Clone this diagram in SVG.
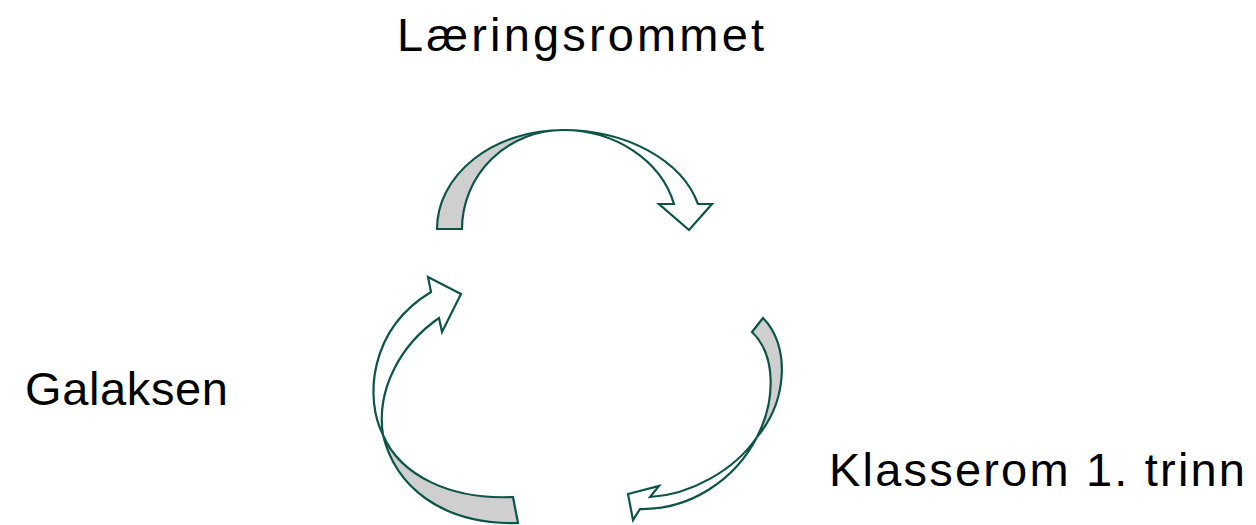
<svg xmlns="http://www.w3.org/2000/svg" width="1256" height="525" viewBox="0 0 1256 525">
<style>
.lbl{font-family:"Liberation Sans",Arial,sans-serif;font-size:47px;fill:#000}
.back{fill:#cfcfcf;stroke:#0b5447;stroke-width:2.2;stroke-linejoin:miter}
.front{fill:#fff;stroke:#0b5447;stroke-width:2.2;stroke-linejoin:miter}
</style>
<rect width="1256" height="525" fill="#fff"/>
<g id="node-laeringsrommet"><text class="lbl" x="397" y="51" textLength="367">Læringsrommet</text></g>
<g id="node-galaksen"><text class="lbl" x="25" y="405" textLength="203">Galaksen</text></g>
<g id="node-klasserom"><text class="lbl" x="829" y="486" textLength="416">Klasserom 1. trinn</text></g>
<g id="connectors">
<g id="arrow-top">
<path class="back" d="M437,229 L462,229 A101,99 0 0 1 563,130 A126,99 0 0 0 437,229 Z"/>
<path class="front" d="M563,130 A139.5,99 0 0 1 698,204 L712,204 L689,230 L659,204 L674,204 A114.7,99 0 0 0 563,130 Z"/>
</g>
<g id="arrow-right">
<path class="back" d="M763,318 C790,345 788,400 757,437 C776,400 776,355 752,332 Z"/>
<path class="front" d="M757,437 C735,480 690,510 640,509 L633,520 L628,494 L659,486 L650,497 C690,495 735,470 757,437 Z"/>
</g>
<g id="arrow-left">
<path class="back" d="M383,435 C395,485 440,525 518,523 L513,497 C450,500 400,475 383,435 Z"/>
<path class="front" d="M383,435 C365,400 368,330 431,292 L428,277 L461,294 L442,332 L439,318 C400,345 376,390 383,435 Z"/>
</g>
</g>
</svg>
